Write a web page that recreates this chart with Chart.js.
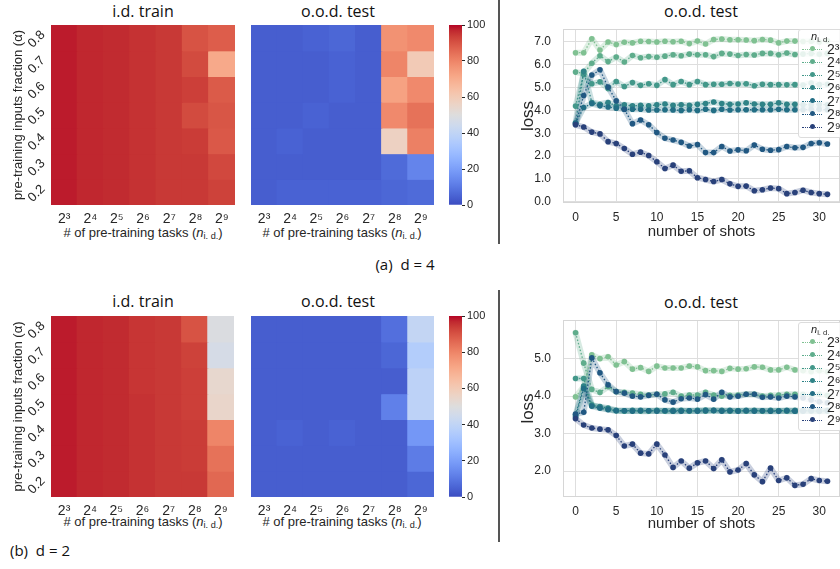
<!DOCTYPE html>
<html>
<head>
<meta charset="utf-8">
<script src="https://cdn.jsdelivr.net/npm/chart.js@4.4.1/dist/chart.umd.min.js"></script>
<style>
html, body { margin: 0; padding: 0; background: #fff; }
body { position: relative; width: 840px; height: 569px; overflow: hidden; font-family: "Liberation Sans", Arial, sans-serif; color: #262626; }
canvas { position: absolute; }
.ttl { position: absolute; transform: translate(-50%, -50%); white-space: nowrap; font-family: "Open Sans", sans-serif; font-size: 16px; color: #111; }
.xt { position: absolute; transform: translate(-50%, -50%); white-space: nowrap; font-size: 13px; }
.xt sub, .lg sub { font-size: 70%; vertical-align: -0.3em; font-style: normal; }
.cap { position: absolute; transform: translate(-50%, -50%); white-space: nowrap; font-family: "Open Sans", sans-serif; font-size: 15px; color: #111; }
.vline { position: absolute; left: 498px; width: 1.5px; background: #555; }
.lg { position: absolute; left: 798px; width: 60px; background: rgba(255,255,255,.85); border: 1px solid #dcdcdc; border-radius: 3px; font-size: 14px; }
.lg .h { height: 13px; padding-left: 12px; font-size: 11px; line-height: 13px; }
.lg .row { position: relative; height: 13px; }
.lg .smp { position: absolute; left: 3px; top: 6px; width: 20px; border-top: 1.5px dotted; }
.lg .smp i { position: absolute; left: 8px; top: -3.8px; width: 5px; height: 5px; border-radius: 50%; }
.lg .lab { position: absolute; left: 28px; top: -2px; line-height: 16px; }
</style>
</head>
<body>

<div class="ttl" style="left:143px;top:11px">i.d. train</div>
<div class="ttl" style="left:338px;top:11px">o.o.d. test</div>
<div class="ttl" style="left:701px;top:11px">o.o.d. test</div>
<div class="ttl" style="left:143px;top:301px">i.d. train</div>
<div class="ttl" style="left:338px;top:301px">o.o.d. test</div>
<div class="ttl" style="left:701px;top:302px">o.o.d. test</div>

<div class="xt" style="left:143px;top:233px"># of pre-training tasks (<i>n</i><sub>i. d.</sub>)</div>
<div class="xt" style="left:342px;top:233px"># of pre-training tasks (<i>n</i><sub>i. d.</sub>)</div>
<div class="xt" style="left:143px;top:522px"># of pre-training tasks (<i>n</i><sub>i. d.</sub>)</div>
<div class="xt" style="left:342px;top:522px"># of pre-training tasks (<i>n</i><sub>i. d.</sub>)</div>

<div class="cap" style="left:405px;top:264px">(a)&nbsp;&nbsp;d = 4</div>
<div class="cap" style="left:40px;top:550px">(b)&nbsp;&nbsp;d = 2</div>

<div class="vline" style="top:0;height:244px"></div>
<div class="vline" style="top:290px;height:252px"></div>

<canvas id="hA1" width="235" height="210" style="left:0;top:25px"></canvas>
<canvas id="hA2" width="183" height="210" style="left:251px;top:25px"></canvas>
<canvas id="cbA" width="43" height="196" style="left:449px;top:17px"></canvas>
<canvas id="lA" width="344" height="218" style="left:500px;top:25px"></canvas>

<canvas id="hB1" width="234" height="211" style="left:0;top:316px"></canvas>
<canvas id="hB2" width="183" height="211" style="left:251px;top:316px"></canvas>
<canvas id="cbB" width="43" height="197" style="left:449px;top:308px"></canvas>
<canvas id="lB" width="344" height="221" style="left:500px;top:316px"></canvas>

<script>
// categories / ticks
const nLabels = ['2³', '2⁴', '2⁵', '2⁶', '2⁷', '2⁸', '2⁹'];
const alphaRows = [0.8, 0.7, 0.6, 0.5, 0.4, 0.3, 0.2];
const cbarTicks = [0, 20, 40, 60, 80, 100];
const shots = [0, 1, 2, 3, 4, 5, 6, 7, 8, 9, 10, 11, 12, 13, 14, 15, 16, 17, 18, 19, 20, 21, 22, 23, 24, 25, 26, 27, 28, 29, 30, 31];
const shotTicks = [0, 5, 10, 15, 20, 25, 30];
const lossTicksA = [0, 1, 2, 3, 4, 5, 6, 7];
const lossTicksB = [2, 3, 4, 5];

// heatmap values (%) rows = alpha 0.8 .. 0.2, cols = 2^3 .. 2^9
// d = 4
const trainA = [
	[98, 97, 96.5, 95.5, 94.5, 90, 88],
	[98, 97, 96.5, 95.5, 94.5, 91.5, 71],
	[98, 97, 96.5, 95.5, 94.5, 93.5, 88.5],
	[98, 97, 96.5, 95.5, 94.5, 91.5, 89.5],
	[98, 97, 96.5, 95.5, 94.5, 94, 89],
	[98, 97, 96.5, 95.5, 94.5, 94.5, 92],
	[98, 97, 96.5, 95.5, 94.5, 94.5, 93]
];
const testA = [
	[4, 4, 5, 6, 4, 77, 79],
	[4, 4, 4, 5, 4, 80, 60],
	[4, 4, 4, 5, 4, 73, 79],
	[4, 4, 5, 4, 4, 79, 84],
	[4, 5, 4, 4, 4, 57, 81],
	[4, 4, 4, 4, 4, 7, 13],
	[4, 5, 5, 5, 5, 6, 7]
];
// d = 2
const trainB = [
	[98, 97, 96.5, 95, 94.5, 90, 49],
	[98, 97, 96.5, 95, 94.5, 93, 47],
	[98, 97, 96.5, 95, 94.5, 93.5, 54],
	[98, 97, 96.5, 95.5, 94.5, 93.5, 55],
	[98, 97, 96.5, 95.5, 94.5, 94, 80],
	[98, 97, 96.5, 95.5, 94.5, 94, 84],
	[98, 97, 96.5, 95.5, 94.5, 94.5, 86]
];
const testB = [
	[4, 4, 4, 4, 4, 8, 41],
	[4, 4, 4, 4, 4, 6, 36],
	[4, 4, 4, 4, 4, 4, 39],
	[4, 4, 4, 4, 4, 12, 39],
	[4, 5, 4, 5, 4, 4, 18],
	[4, 4, 4, 4, 4, 4, 11],
	[4, 4, 4, 4, 4, 4, 6]
];

// loss vs shots, d = 4
const lossA3 = [6.53, 6.53, 7.14, 6.65, 7.0, 6.89, 6.99, 6.96, 7.03, 7.02, 7.0, 7.03, 7.01, 7.03, 6.93, 7.04, 6.91, 7.11, 7.13, 7.1, 7.1, 7.09, 7.06, 7.11, 7.08, 6.96, 7.04, 7.04, 7.02, 7.03, 7.0, 7.05];
const lossA4 = [5.68, 5.62, 6.07, 6.40, 6.14, 6.34, 6.12, 6.41, 6.31, 6.36, 6.33, 6.38, 6.44, 6.40, 6.47, 6.44, 6.44, 6.36, 6.50, 6.47, 6.41, 6.45, 6.43, 6.50, 6.50, 6.44, 6.52, 6.45, 6.47, 6.50, 6.46, 6.50];
const lossA5 = [4.19, 5.58, 5.17, 5.25, 4.96, 5.27, 5.05, 5.22, 5.1, 5.17, 5.1, 5.35, 5.13, 5.27, 5.13, 5.27, 5.13, 5.15, 5.15, 5.18, 5.16, 5.17, 5.08, 5.15, 5.13, 5.13, 5.12, 5.13, 5.11, 5.2, 5.13, 5.15];
const lossA6 = [3.45, 5.72, 4.35, 4.27, 4.35, 4.2, 4.25, 4.2, 4.22, 4.2, 4.25, 4.28, 4.22, 4.25, 4.22, 4.27, 4.3, 4.37, 4.3, 4.27, 4.28, 4.33, 4.28, 4.27, 4.27, 4.33, 4.27, 4.27, 4.25, 4.25, 4.26, 4.25];
const lossA7 = [3.45, 4.13, 4.3, 4.2, 4.15, 4.1, 4.05, 4.05, 4.05, 4.02, 4.02, 4.03, 4.02, 4.0, 4.03, 4.0, 4.05, 4.0, 4.05, 4.02, 4.03, 4.03, 4.03, 4.03, 4.03, 4.05, 4.03, 4.03, 4.03, 4.05, 4.05, 4.03];
const lossA8 = [3.4, 4.65, 5.55, 5.78, 5.02, 4.42, 4.05, 3.42, 3.58, 3.37, 3.03, 2.78, 2.7, 2.6, 2.44, 2.5, 2.15, 2.15, 2.42, 2.22, 2.27, 2.23, 2.48, 2.3, 2.25, 2.28, 2.42, 2.36, 2.38, 2.55, 2.58, 2.53];
const lossA9 = [3.37, 3.27, 3.05, 2.97, 2.63, 2.55, 2.33, 2.08, 2.17, 2.02, 1.75, 1.45, 1.6, 1.33, 1.35, 1.05, 0.97, 0.88, 0.97, 0.78, 0.67, 0.68, 0.48, 0.52, 0.6, 0.57, 0.35, 0.4, 0.5, 0.4, 0.35, 0.32];

// loss vs shots, d = 2
const lossB3 = [3.98, 4.25, 5.1, 5.0, 5.05, 4.83, 4.92, 4.72, 4.76, 4.66, 4.8, 4.75, 4.75, 4.75, 4.8, 4.78, 4.68, 4.68, 4.66, 4.74, 4.72, 4.73, 4.78, 4.77, 4.7, 4.7, 4.77, 4.7, 4.68, 4.65, 4.68, 4.65];
const lossB4 = [5.69, 4.88, 4.18, 4.1, 4.25, 4.12, 4.1, 4.08, 4.05, 4.03, 4.05, 4.06, 4.1, 4.0, 4.03, 4.03, 4.1, 4.03, 4.0, 4.02, 4.03, 4.05, 4.05, 4.0, 4.02, 4.03, 4.05, 4.05, 4.05, 4.03, 4.05, 4.02];
const lossB5 = [4.47, 4.47, 3.77, 3.7, 3.65, 3.61, 3.6, 3.61, 3.6, 3.6, 3.61, 3.6, 3.6, 3.61, 3.6, 3.61, 3.6, 3.62, 3.61, 3.6, 3.61, 3.6, 3.61, 3.6, 3.6, 3.61, 3.6, 3.6, 3.61, 3.6, 3.6, 3.6];
const lossB6 = [3.5, 4.27, 3.75, 3.72, 3.68, 3.62, 3.61, 3.62, 3.62, 3.61, 3.62, 3.61, 3.62, 3.62, 3.61, 3.62, 3.63, 3.61, 3.62, 3.62, 3.61, 3.62, 3.62, 3.61, 3.62, 3.61, 3.62, 3.62, 3.61, 3.62, 3.61, 3.62];
const lossB7 = [3.45, 4.2, 3.73, 3.68, 3.64, 3.61, 3.61, 3.6, 3.61, 3.61, 3.6, 3.61, 3.6, 3.6, 3.61, 3.6, 3.61, 3.62, 3.6, 3.61, 3.6, 3.61, 3.6, 3.61, 3.6, 3.6, 3.61, 3.6, 3.6, 3.61, 3.6, 3.61];
const lossB8 = [3.52, 3.57, 5.02, 4.62, 4.3, 4.12, 4.08, 4.0, 3.98, 4.02, 4.05, 3.9, 3.84, 3.93, 3.95, 3.92, 4.04, 3.92, 4.1, 3.98, 4.0, 4.05, 4.05, 3.97, 3.98, 3.95, 4.0, 3.98, 3.95, 3.9, 3.85, 3.82];
const lossB9 = [3.4, 3.23, 3.15, 3.12, 3.1, 2.95, 2.67, 2.72, 2.48, 2.46, 2.72, 2.43, 2.1, 2.27, 2.08, 2.22, 2.27, 2.07, 2.3, 1.98, 2.03, 2.2, 1.9, 1.72, 2.08, 1.75, 1.82, 1.62, 1.65, 1.8, 1.75, 1.73];

// palette (crest-like), one per n_id
const crest = ['#80c192', '#5fad8c', '#43988a', '#2f8387', '#226e85', '#215882', '#29417a'];

// coolwarm colormap anchors
const coolwarm = [[59,76,192],[68,90,204],[77,104,215],[87,117,225],[98,130,234],[108,142,241],[119,154,247],[130,165,251],[141,176,254],[152,185,255],[163,194,255],[174,201,253],[184,208,249],[194,213,244],[204,217,238],[213,219,230],[221,221,221],[229,216,209],[236,211,197],[241,204,184],[245,196,172],[247,187,159],[247,177,147],[247,166,134],[244,154,123],[241,141,111],[236,127,99],[229,112,88],[222,96,77],[213,80,66],[203,62,56],[192,40,47],[180,4,38]];

function cw(v) {
	var t = Math.max(0, Math.min(1, v / 100)) * (coolwarm.length - 1);
	var i = Math.min(Math.floor(t), coolwarm.length - 2), f = t - i;
	var a = coolwarm[i], b = coolwarm[i + 1];
	return 'rgb(' + a.map((c, k) => Math.round(c + (b[k] - c) * f)).join(',') + ')';
}

function fade(hex, al) {
	var n = parseInt(hex.slice(1), 16);
	return 'rgba(' + (n >> 16) + ',' + ((n >> 8) & 255) + ',' + (n & 255) + ',' + al + ')';
}

Chart.defaults.font.family = "'Liberation Sans', Arial, sans-serif";
Chart.defaults.color = '#262626';

const noPlugins = { legend: { display: false }, tooltip: { enabled: false } };

function heatmap(id, vals, showY) {
	var datasets = alphaRows.map((a, r) => ({
		data: nLabels.map(() => [a - 0.05, a + 0.05]),
		backgroundColor: vals[r].map(cw),
		grouped: false,
		barPercentage: 1,
		categoryPercentage: 1,
		borderWidth: 0,
		inflateAmount: 0.6
	}));
	new Chart(document.getElementById(id), {
		type: 'bar',
		data: { labels: nLabels, datasets: datasets },
		options: {
			responsive: false,
			animation: false,
			layout: { padding: 0 },
			plugins: noPlugins,
			scales: {
				x: {
					grid: { display: false, drawTicks: false },
					border: { display: false },
					ticks: { font: { size: 14 }, padding: 6 },
					afterFit: s => { s.height = 30; s.paddingLeft = 0; s.paddingRight = 0; }
				},
				y: {
					display: showY,
					min: 0.15,
					max: 0.85,
					grid: { display: false, drawTicks: false },
					border: { display: false },
					afterBuildTicks: s => { s.ticks = alphaRows.map(v => ({ value: v })); },
					ticks: {
						minRotation: 45, maxRotation: 45, padding: 8, labelOffset: -5,
						font: { size: 13 },
						callback: v => v.toFixed(1)
					},
					title: { display: true, text: 'pre-training inputs fraction (α)', font: { size: 13 }, padding: { top: 11, bottom: 0 } },
					afterFit: s => { if (showY) s.width = 51; s.paddingTop = 0; s.paddingBottom = 0; }
				}
			}
		}
	});
}

function colorbar(id) {
	new Chart(document.getElementById(id), {
		type: 'bar',
		data: {
			labels: [''],
			datasets: [{
				data: [[cbarTicks[0], cbarTicks[cbarTicks.length - 1]]],
				backgroundColor: function(c) {
					var ca = c.chart.chartArea;
					if (!ca) return 'transparent';
					var g = c.chart.ctx.createLinearGradient(0, ca.bottom, 0, ca.top);
					coolwarm.forEach((rgb, i) => g.addColorStop(i / (coolwarm.length - 1), 'rgb(' + rgb.join(',') + ')'));
					return g;
				},
				barPercentage: 1,
				categoryPercentage: 1,
				borderWidth: 0
			}]
		},
		options: {
			responsive: false,
			animation: false,
			layout: { padding: { top: 8, bottom: 8 } },
			plugins: noPlugins,
			scales: {
				x: { display: false },
				y: {
					position: 'right',
					min: cbarTicks[0],
					max: cbarTicks[cbarTicks.length - 1],
					grid: { drawOnChartArea: false, drawTicks: true, tickLength: 3, color: '#262626' },
					border: { display: false },
					afterBuildTicks: s => { s.ticks = cbarTicks.map(v => ({ value: v })); },
					ticks: { padding: 2, font: { size: 11 } },
					afterFit: s => { s.width = 30; s.paddingTop = 0; s.paddingBottom = 0; }
				}
			}
		}
	});
}

// light frame round the plot area
const frame = {
	id: 'frame',
	beforeDatasetsDraw(chart) {
		var a = chart.chartArea, c = chart.ctx;
		c.save();
		c.strokeStyle = '#d6d6d6';
		c.lineWidth = 1;
		c.strokeRect(a.left + 0.5, a.top + 0.5, a.width - 1, a.height - 1);
		c.restore();
	}
};

function lossChart(id, series, yMin, yMax, yTicks, xPad) {
	var datasets = [];
	series.forEach((s, i) => {
		// band
		datasets.push({
			data: s, borderColor: fade(crest[i], 0.25), borderWidth: 6,
			pointRadius: 0, order: 40 - i, borderJoinStyle: 'round', borderCapStyle: 'round'
		});
		// dotted line + markers
		datasets.push({
			data: s, borderColor: crest[i], borderWidth: 1.3, borderDash: [1.5, 2],
			pointRadius: 2.8, pointBackgroundColor: crest[i], pointBorderWidth: 0, order: 20 - i
		});
	});
	new Chart(document.getElementById(id), {
		type: 'line',
		data: { labels: shots, datasets: datasets },
		plugins: [frame],
		options: {
			responsive: false,
			animation: false,
			plugins: noPlugins,
			scales: {
				x: {
					type: 'linear',
					min: -1.55,
					max: 32.55,
					afterBuildTicks: s => { s.ticks = shotTicks.map(v => ({ value: v })); },
					grid: { color: '#dedede', drawTicks: false },
					border: { display: false },
					ticks: { padding: 7, font: { size: 12 } },
					title: { display: true, text: 'number of shots', font: { size: 15 }, padding: { top: 0, bottom: xPad } },
					afterFit: s => { s.height = 40; s.paddingLeft = 0; s.paddingRight = 0; }
				},
				y: {
					min: yMin,
					max: yMax,
					afterBuildTicks: s => { s.ticks = yTicks.map(v => ({ value: v })); },
					grid: { color: '#dedede', drawTicks: false },
					border: { display: false },
					ticks: { padding: 12, font: { size: 12 }, callback: v => v.toFixed(1) },
					title: { display: true, text: 'loss', font: { size: 17 }, padding: { top: 18, bottom: 0 } },
					afterFit: s => { s.width = 63; s.paddingTop = 0; s.paddingBottom = 0; }
				}
			}
		}
	});
}

function legend(top) {
	var d = document.createElement('div');
	d.className = 'lg';
	d.style.top = top + 'px';
	var html = '<div class="h"><i>n</i><sub>i. d.</sub></div>';
	nLabels.forEach((l, i) => {
		html += '<div class="row"><span class="smp" style="border-color:' + crest[i] + '"><i style="background:' + crest[i] + '"></i></span><span class="lab">' + l + '</span></div>';
	});
	d.innerHTML = html + '<div style="height:3px"></div>';
	document.body.appendChild(d);
}

heatmap('hA1', trainA, true);
heatmap('hA2', testA, false);
colorbar('cbA');
lossChart('lA', [lossA3, lossA4, lossA5, lossA6, lossA7, lossA8, lossA9], -0.06, 7.57, lossTicksA, 2);

heatmap('hB1', trainB, true);
heatmap('hB2', testB, false);
colorbar('cbB');
lossChart('lB', [lossB3, lossB4, lossB5, lossB6, lossB7, lossB8, lossB9], 1.31, 6.03, lossTicksB, 4);

legend(29);
legend(322);
</script>
</body>
</html>
